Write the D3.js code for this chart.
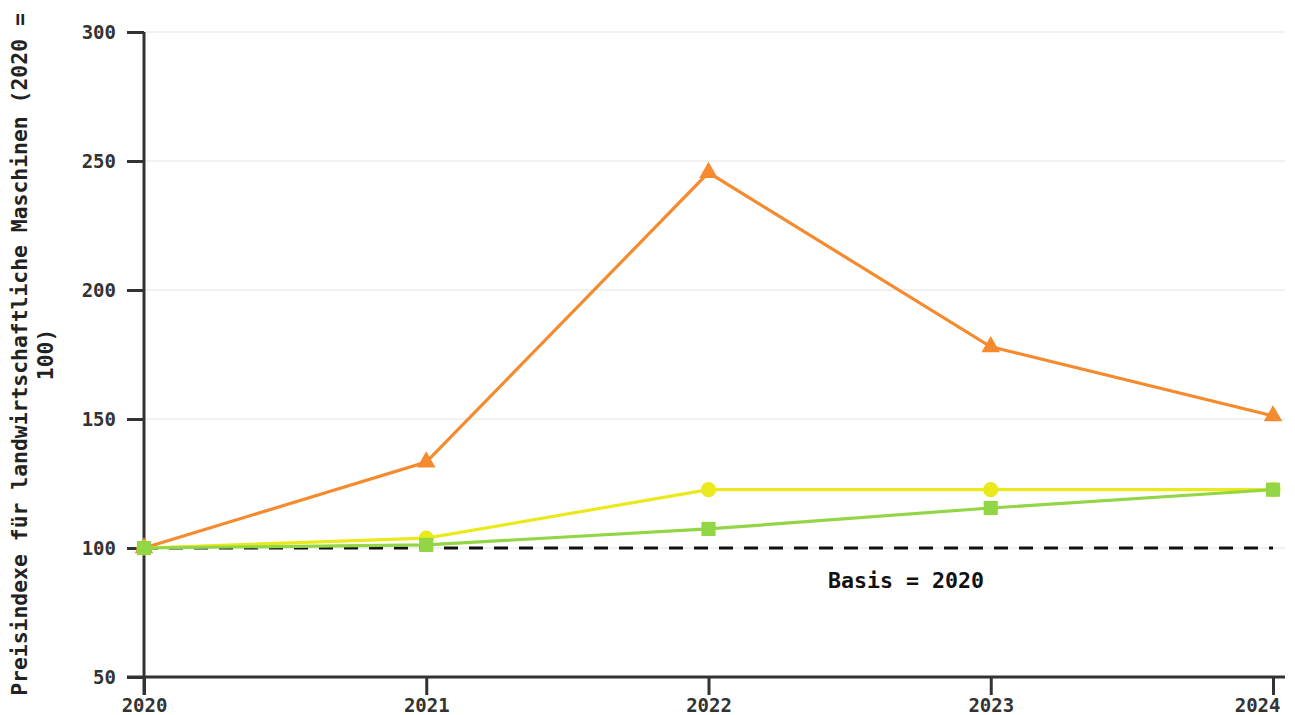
<!DOCTYPE html>
<html>
<head>
<meta charset="utf-8">
<script src="https://cdn.jsdelivr.net/npm/d3@7"></script>
<style>
  body { margin: 0; background: #fff; }
  text { font-family: "DejaVu Sans Mono", monospace; font-weight: bold; fill: #333; }
</style>
</head>
<body>
<div class="vis-line"></div>
<script>
const years = [2020, 2021, 2022, 2023, 2024];
const yTicks = [50, 100, 150, 200, 250, 300];
const seriesNames = ['Maschinen A', 'Maschinen B', 'Maschinen C'];
const orangeValues = [100, 133.3, 245.5, 178, 151.2];
const yellowValues = [100, 103.8, 122.6, 122.6, 122.6];
const greenValues = [100, 101.2, 107.4, 115.5, 122.6];
const baseValue = 100;
const yLabel = ['Preisindexe für landwirtschaftliche Maschinen (2020 =', '100)'];
const baseLabel = 'Basis = 2020';

const width = 1295, height = 715;
const margin = { top: 32, right: 20, bottom: 38, left: 144 };
const innerW = 1273 - margin.left;
const innerH = 677 - margin.top;

const svg = d3.select('.vis-line')
    .append('svg')
    .attr('width', width)
    .attr('height', height)
    .append('g')
    .attr('transform', 'translate(' + margin.left + ',' + margin.top + ')');

const x = d3.scaleLinear().domain([2020, 2024]).range([0, innerW]);
const y = d3.scaleLinear().domain([50, 300]).range([innerH, 0]);

// grid
svg.append('g')
    .selectAll('line')
    .data(yTicks)
    .join('line')
    .attr('x1', 0)
    .attr('x2', innerW + 12)
    .attr('y1', d => y(d))
    .attr('y2', d => y(d))
    .attr('stroke', '#e3e3e3')
    .attr('stroke-width', 1);

// baseline
svg.append('line')
    .attr('x1', x(2020))
    .attr('x2', x(2024))
    .attr('y1', y(baseValue))
    .attr('y2', y(baseValue))
    .attr('stroke', '#111')
    .attr('stroke-width', 3)
    .attr('stroke-dasharray', '14,11');

svg.append('text')
    .attr('x', x(2022.7))
    .attr('y', y(baseValue) + 40)
    .attr('text-anchor', 'middle')
    .style('font-size', '21.6px')
    .style('fill', '#111')
    .text(baseLabel);

// axes
const xAxis = svg.append('g')
    .attr('transform', 'translate(0,' + innerH + ')')
    .call(d3.axisBottom(x).tickValues(years).tickFormat(d3.format('d')).tickSize(18).tickPadding(4).tickSizeOuter(0));
xAxis.select('.domain').remove();
xAxis.selectAll('.tick line').attr('stroke', '#333').attr('stroke-width', 3);
xAxis.selectAll('.tick text').style('font-size', '19px');
xAxis.selectAll('.tick text').filter(d => d === 2024).attr('text-anchor', 'end').attr('x', 7);

const yAxis = svg.append('g')
    .call(d3.axisLeft(y).tickValues(yTicks).tickSize(17).tickPadding(11).tickSizeOuter(0));
yAxis.select('.domain').remove();
yAxis.selectAll('.tick line').attr('stroke', '#333').attr('stroke-width', 3);
yAxis.selectAll('.tick text').style('font-size', '19px');

svg.append('line')
    .attr('x1', 0).attr('x2', 0)
    .attr('y1', 0).attr('y2', innerH + 18)
    .attr('stroke', '#333').attr('stroke-width', 3);
svg.append('line')
    .attr('x1', -17).attr('x2', innerW + 12)
    .attr('y1', innerH).attr('y2', innerH)
    .attr('stroke', '#333').attr('stroke-width', 3);

// y label
const yl = svg.append('text')
    .attr('transform', 'rotate(-90)')
    .attr('x', -innerH / 2)
    .attr('y', -margin.left + 27)
    .attr('text-anchor', 'middle')
    .style('font-size', '21.4px')
    .style('fill', '#222');
yLabel.forEach((t, i) => {
    yl.append('tspan')
        .attr('x', -innerH / 2)
        .attr('dy', i === 0 ? 0 : 26)
        .text(t);
});

// series
const series = [
    { name: seriesNames[0], values: orangeValues, color: '#f58a2e', symbol: d3.symbolTriangle, size: 150 },
    { name: seriesNames[1], values: yellowValues, color: '#e9e91c', symbol: d3.symbolCircle, size: 180 },
    { name: seriesNames[2], values: greenValues, color: '#92d545', symbol: d3.symbolSquare, size: 200 }
];

const line = d3.line()
    .x((d, i) => x(years[i]))
    .y(d => y(d));

series.forEach(s => {
    svg.append('path')
        .datum(s.values)
        .attr('fill', 'none')
        .attr('stroke', s.color)
        .attr('stroke-width', 3.2)
        .attr('d', line);
    svg.append('g')
        .selectAll('path')
        .data(s.values)
        .join('path')
        .attr('transform', (d, i) => 'translate(' + x(years[i]) + ',' + y(d) + ')')
        .attr('d', d3.symbol().type(s.symbol).size(s.size))
        .attr('fill', s.color);
});
</script>
</body>
</html>
